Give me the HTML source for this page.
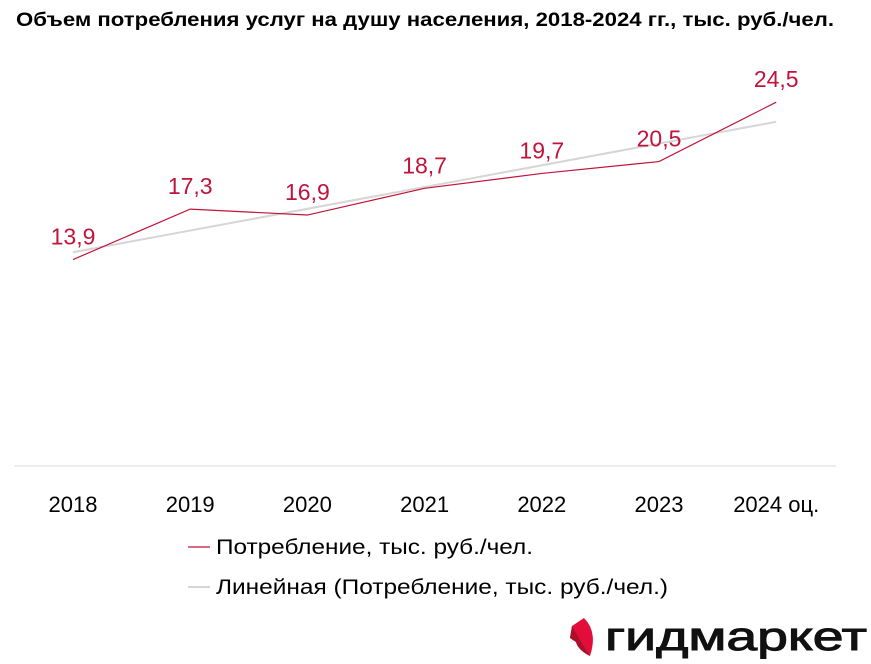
<!DOCTYPE html>
<html><head><meta charset="utf-8">
<style>
html,body{margin:0;padding:0;background:#fff;}
svg{display:block;font-family:"Liberation Sans","DejaVu Sans",sans-serif;}
</style></head>
<body>
<svg id="chart" width="871" height="664" viewBox="0 0 871 664">
  <text x="425" y="26" text-anchor="middle" font-size="19" font-weight="bold" fill="#000" textLength="818" lengthAdjust="spacingAndGlyphs">Объем потребления услуг на душу населения, 2018-2024 гг., тыс. руб./чел.</text>
  <line x1="14" y1="466" x2="836" y2="466" stroke="#d9d9d9" stroke-width="1"/>
  <g id="xlabels"></g>
  <g id="trend"></g>
  <g id="series"></g>
  <g id="values"></g>
  <g>
    <g>
      <line x1="188" y1="547" x2="210" y2="547" stroke="#c0143c" stroke-width="1.2"/>
      <text x="216" y="554" font-size="21" fill="#000" textLength="317" lengthAdjust="spacingAndGlyphs">Потребление, тыс. руб./чел.</text>
    </g>
    <g>
      <line x1="188" y1="587" x2="210" y2="587" stroke="#d0d0d0" stroke-width="1.8"/>
      <text x="216" y="594" font-size="21" fill="#000" textLength="452" lengthAdjust="spacingAndGlyphs">Линейная (Потребление, тыс. руб./чел.)</text>
    </g>
  </g>
  <g>
    <path d="M572,626 L584,618 Q598,632 590,656 Q578,650 576,642 L570,638 Z" fill="#e30d3c"/>
    <path d="M572,626 L580,640 L590,656 Q578,650 576,642 L570,638 Z" fill="#a8102c"/>
    <text x="605" y="650" font-size="40" fill="#111" stroke="#111" stroke-width="1" textLength="262" lengthAdjust="spacingAndGlyphs">гидмаркет</text>
  </g>
</svg>
<script>
const categories = ["2018","2019","2020","2021","2022","2023","2024 оц."];
const values = [13.9, 17.3, 16.9, 18.7, 19.7, 20.5, 24.5];
const valueLabels = ["13,9","17,3","16,9","18,7","19,7","20,5","24,5"];

const NS = "http://www.w3.org/2000/svg";
const x0 = 73, dx = 117.2, baseY = 466, scale = 14.85;
function xPos(i){ return x0 + i*dx; }
function yPos(v){ return baseY - v*scale; }

const xl = document.getElementById('xlabels');
categories.forEach((c,i)=>{
  const t = document.createElementNS(NS,'text');
  t.setAttribute('x', xPos(i)); t.setAttribute('y', 512);
  t.setAttribute('text-anchor','middle'); t.setAttribute('font-size','22');
  t.textContent = c;
  
  
  xl.appendChild(t);
});

const n = values.length;
let sx=0,sy=0,sxy=0,sxx=0;
values.forEach((v,i)=>{sx+=i;sy+=v;sxy+=i*v;sxx+=i*i;});
const b = (n*sxy - sx*sy)/(n*sxx - sx*sx);
const a = (sy - b*sx)/n;
const tl = document.createElementNS(NS,'line');
tl.setAttribute('x1', xPos(0)); tl.setAttribute('y1', yPos(a));
tl.setAttribute('x2', xPos(n-1)); tl.setAttribute('y2', yPos(a+b*(n-1)));
tl.setAttribute('stroke','#d6d6d6'); tl.setAttribute('stroke-width','2');


document.getElementById('trend').appendChild(tl);

const pl = document.createElementNS(NS,'polyline');
pl.setAttribute('points', values.map((v,i)=>xPos(i)+','+yPos(v)).join(' '));
pl.setAttribute('fill','none'); pl.setAttribute('stroke','#c0143c'); pl.setAttribute('stroke-width','1.2');


document.getElementById('series').appendChild(pl);

const vg = document.getElementById('values');
values.forEach((v,i)=>{
  const t = document.createElementNS(NS,'text');
  t.setAttribute('x', xPos(i)); t.setAttribute('y', yPos(v)-15);
  t.setAttribute('text-anchor','middle'); t.setAttribute('font-size','23');
  t.setAttribute('fill','#c0143c');
  t.textContent = valueLabels[i];
  
  
  vg.appendChild(t);
});
</script>
</body></html>
